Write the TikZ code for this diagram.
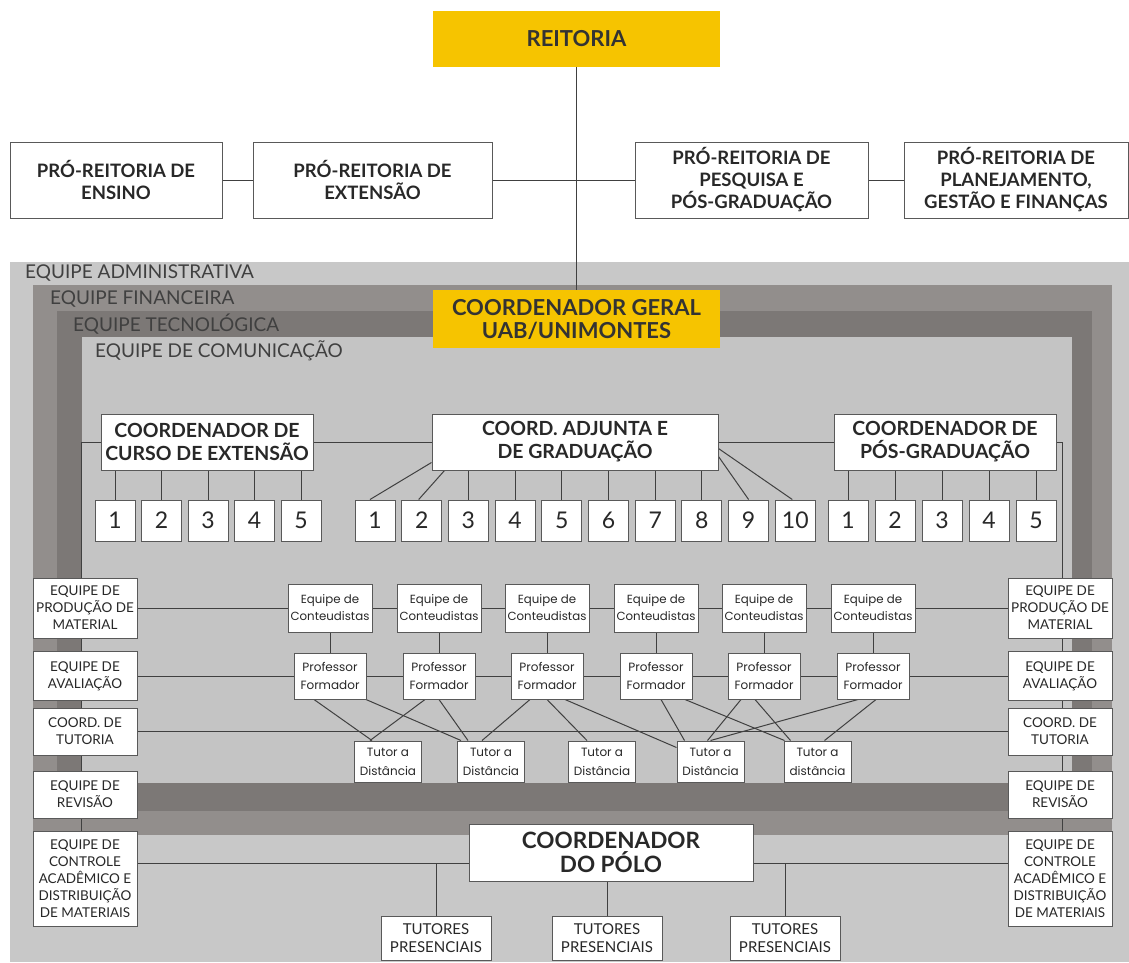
\documentclass[tikz,border=0pt]{standalone}
\usepackage{fontspec}
\setmainfont{Lato}
\newfontfamily\geofont{Poppins}
\usetikzlibrary{positioning}
\pgfdeclarelayer{back}
\pgfdeclarelayer{wires}
\pgfsetlayers{back,wires,main}

\definecolor{uabgold}{RGB}{246,196,0}
\definecolor{admgray}{RGB}{200,200,200}
\definecolor{fingray}{RGB}{146,142,140}
\definecolor{tecgray}{RGB}{124,120,118}
\definecolor{comgray}{RGB}{196,196,196}
\definecolor{inkgray}{RGB}{40,40,40}

\tikzset{
  frame/.style={draw=black!65, fill=white, line width=1pt, align=center, inner sep=0pt, text=inkgray},
  gold/.style={fill=uabgold, align=center, inner sep=0pt, text=black!80,
    font=\fontsize{22}{23}\selectfont\bfseries},
  pro/.style={frame, minimum height=76pt, font=\fontsize{18.5}{22}\selectfont\bfseries},
  head/.style={frame, minimum height=56pt, font=\fontsize{19.5}{23}\selectfont\bfseries},
  num/.style={frame, minimum width=40pt, minimum height=41pt, font=\fontsize{23}{24}\selectfont},
  side/.style={frame, minimum width=104pt, font=\fontsize{13.5}{17}\selectfont},
  cont/.style={frame, minimum width=84pt, minimum height=48pt, font=\geofont\fontsize{11.8}{17}\selectfont},
  formador/.style={frame, minimum width=72pt, minimum height=46pt, font=\geofont\fontsize{12}{18}\selectfont},
  tutor/.style={frame, minimum width=67pt, minimum height=41pt, font=\geofont\fontsize{12}{19}\selectfont},
  polo/.style={frame, minimum width=284pt, minimum height=57pt, font=\fontsize{22.5}{24}\selectfont\bfseries},
  presencial/.style={frame, minimum width=110pt, minimum height=44pt, font=\fontsize{15}{18}\selectfont},
  teamlabel/.style={anchor=west, inner sep=0pt, text=black!75, font=\fontsize{19}{20}\selectfont},
  link/.style={draw=black!75, line width=1pt}
}

\begin{document}
\begin{tikzpicture}[x=1pt,y=-1pt]
\useasboundingbox (0,0) rectangle (1129,962);
% Team bands
\begin{pgfonlayer}{back}
  \fill[white] (0,0) rectangle (1129,962);
  \fill[admgray] (10,262) rectangle (1129,962);
  \fill[fingray] (33,285) rectangle (1112,835);
  \fill[tecgray] (57,311) rectangle (1092,811);
  \fill[comgray] (82,337) rectangle (1072,783);
\end{pgfonlayer}
\node[teamlabel] (ladm) at (25,273) {EQUIPE ADMINISTRATIVA};
\node[teamlabel] (lfin) at (50,299) {EQUIPE FINANCEIRA};
\node[teamlabel] (ltec) at (73,324) {EQUIPE TECNOLÓGICA};
\node[teamlabel] (lcom) at (95,351) {EQUIPE DE COMUNICAÇÃO};

% Reitoria and pro-reitorias
\node[gold, minimum width=287pt, minimum height=56pt] (reit) at (576.5,39) {REITORIA};
\node[pro, minimum width=212pt] (pens) at (116,180) {PRÓ-REITORIA DE\\ENSINO};
\node[pro, minimum width=239pt] (pext) at (372.5,180) {PRÓ-REITORIA DE\\EXTENSÃO};
\node[pro, minimum width=233pt] (ppes) at (751.5,180) {PRÓ-REITORIA DE\\PESQUISA E\\PÓS-GRADUAÇÃO};
\node[pro, minimum width=224pt] (ppla) at (1016,180) {PRÓ-REITORIA DE\\PLANEJAMENTO,\\GESTÃO E FINANÇAS};

% Coordenacao
\node[gold, minimum width=287pt, minimum height=58pt] (cger) at (576.5,319) {COORDENADOR GERAL\\UAB/UNIMONTES};
\node[head, minimum width=212pt] (cext) at (207,442) {COORDENADOR DE\\CURSO DE EXTENSÃO};
\node[head, minimum width=286pt] (cadj) at (575,442) {COORD. ADJUNTA E\\DE GRADUAÇÃO};
\node[head, minimum width=222pt] (cpos) at (945,442) {COORDENADOR DE\\PÓS-GRADUAÇÃO};

% Cursos
\foreach \i in {1,...,5}
  \node[num] (e\i) at ({115+46.5*(\i-1)},520.5) {\i};
\foreach \i in {1,...,10}
  \node[num] (g\i) at ({375+46.7*(\i-1)},520.5) {\i};
\foreach \i in {1,...,5}
  \node[num] (q\i) at ({848+47*(\i-1)},520.5) {\i};

% Side teams
\foreach \s/\x in {l/85,r/1060} {
  \node[side, minimum height=60pt] (\s prod) at (\x,608) {EQUIPE DE\\PRODUÇÃO DE\\MATERIAL};
  \node[side, minimum height=49pt] (\s aval) at (\x,676) {EQUIPE DE\\AVALIAÇÃO};
  \node[side, minimum height=47pt] (\s tut) at (\x,731.5) {COORD. DE\\TUTORIA};
  \node[side, minimum height=47pt] (\s rev) at (\x,794.5) {EQUIPE DE\\REVISÃO};
  \node[side, minimum height=95pt] (\s ctrl) at (\x,878.5) {EQUIPE DE\\CONTROLE\\ACADÊMICO E\\DISTRIBUIÇÃO\\DE MATERIAIS};
}

% Conteudistas, formadores, tutores
\foreach \i/\x in {1/330,2/439,3/547,4/656,5/764,6/873} {
  \node[cont] (c\i) at (\x,608) {Equipe de\\Conteudistas};
  \node[formador] (f\i) at (\x,676) {Professor\\Formador};
}
\foreach \i/\x in {1/388,2/491,3/602,4/710.5} 
  \node[tutor] (t\i) at (\x,761.5) {Tutor a\\Distância};
\node[tutor] (t5) at (817.5,761.5) {Tutor a\\distância};

% Polo
\node[polo] (polo) at (611,852.5) {COORDENADOR\\DO PÓLO};
\foreach \i/\x in {1/436,2/607,3/785}
  \node[presencial] (tp\i) at (\x,938) {TUTORES\\PRESENCIAIS};

% Connectors
\begin{pgfonlayer}{wires}
  \draw[link] (reit) -- (cger);
  \draw[link] (pens) -- (pext);
  \draw[link] (pext) -- (ppes);
  \draw[link] (ppes) -- (ppla);
  \draw[link] (cext) -- (cadj);
  \draw[link] (cadj) -- (cpos);
  \draw[link] (cext.west) -| ([xshift=-4pt]lctrl.north);
  \draw[link] (cpos.east) -| ([xshift=2pt]rctrl.north);
  \foreach \i in {1,...,5} {
    \draw[link] (e\i.north |- cext.south) -- (e\i.north);
    \draw[link] (q\i.north |- cpos.south) -- (q\i.north);
  }
  \draw[link] ([yshift=8pt]cadj.south west) -- ([xshift=-5pt]g1.north);
  \draw[link] ([xshift=13pt]cadj.south west) -- ([xshift=-3pt]g2.north);
  \foreach \i in {3,...,8}
    \draw[link] (g\i.north |- cadj.south) -- (g\i.north);
  \draw[link] ([yshift=14pt]cadj.south east) -- (g9.north);
  \draw[link] ([yshift=22pt]cadj.south east) -- ([xshift=-3pt]g10.north);
  % rows
  \draw[link] (lprod) -- (c1);
  \draw[link] (c6) -- (rprod);
  \draw[link] (laval) -- (f1);
  \draw[link] (f6) -- (raval);
  \foreach \i [evaluate=\i as \j using int(\i+1)] in {1,...,5} {
    \draw[link] (c\i) -- (c\j);
    \draw[link] (f\i) -- (f\j);
  }
  \foreach \i in {1,...,6}
    \draw[link] (c\i) -- (f\i);
  \draw[link] (ltut) -- (rtut);
  % formador to tutor
  \foreach \a/\da/\b/\db in {1/-16/1/-16, 1/36/2/-30, 2/-14/1/-18, 2/0/2/-23,
      3/-17/2/-9, 3/0/3/-15, 4/5/4/-26, 4/29/5/-33, 5/-23/4/-3, 5/-9/5/-27,
      6/-15/4/0, 6/3/5/7}
    \draw[link] ([xshift=\da pt]f\a.south) -- ([xshift=\db pt]t\b.north);
  \draw[link] ([xshift=18pt]f3.south) -- ([yshift=-7pt]t4.north west);
  % polo
  \draw[link] ([yshift=-11pt]polo.west) -- ([yshift=-11pt]polo.west -| lctrl.east);
  \draw[link] ([yshift=-11pt]polo.east) -- ([yshift=-11pt]polo.east -| rctrl.west);
  \draw[link] (tp1.north) -- (tp1.north |- 0,864);
  \draw[link] (tp2.north |- polo.south) -- (tp2.north);
  \draw[link] (tp3.north) -- (tp3.north |- 0,864);
\end{pgfonlayer}
\end{tikzpicture}
\end{document}
